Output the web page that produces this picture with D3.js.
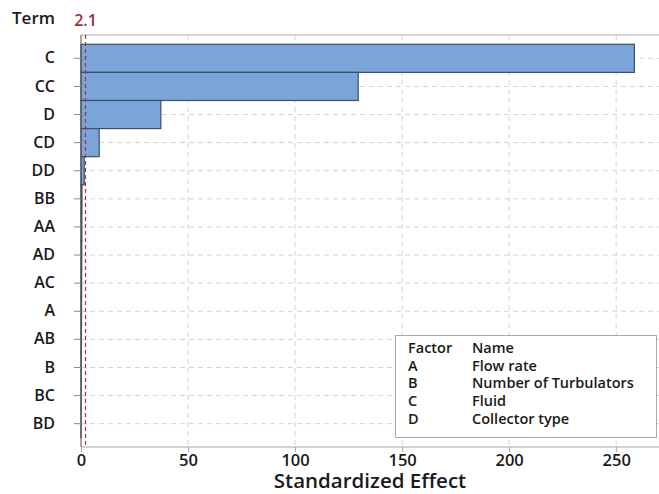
<!DOCTYPE html>
<html>
<head>
<meta charset="utf-8">
<script src="https://cdn.jsdelivr.net/npm/d3@7"></script>
<style>
  body { margin: 0; background: #fff; }
  svg text { font-family: "Open Sans", "Noto Sans", sans-serif; fill: #1a1a1a; }
</style>
</head>
<body>
<svg id="chart" width="659" height="494"></svg>
<script>
// Pareto chart of standardized effects
const terms = ["C", "CC", "D", "CD", "DD", "BB", "AA", "AD", "AC", "A", "AB", "B", "BC", "BD"];
const effects = [258.5, 129.5, 37.3, 8.5, 1.5, 0.45, 0.4, 0.35, 0.3, 0.25, 0.2, 0.15, 0.1, 0.05];
const xTicks = [0, 50, 100, 150, 200, 250];
const refValue = 2.1;
const factorCodes = ["A", "B", "C", "D"];
const factorNames = ["Flow rate", "Number of Turbulators", "Fluid", "Collector type"];

const svg = d3.select("#chart");
const plotLeft = 81, plotRight = 659, plotTop = 35, plotBottom = 447;

const x = d3.scaleLinear().domain([0, 270]).range([plotLeft, plotRight]);
const y = d3.scaleBand().domain(terms).range([plotTop, plotBottom]).paddingInner(0).paddingOuter(0.33);

// frame top line
svg.append("line").attr("x1", plotLeft).attr("x2", plotRight).attr("y1", plotTop).attr("y2", plotTop)
  .attr("stroke", "#c8c8c8").attr("stroke-width", 1.5);

// gridlines
svg.append("g").selectAll("line").data(xTicks.slice(1)).join("line")
  .attr("x1", d => x(d)).attr("x2", d => x(d)).attr("y1", plotTop).attr("y2", plotBottom)
  .attr("stroke", "#d4d4d4").attr("stroke-dasharray", "5,4");
svg.append("g").selectAll("line").data(terms).join("line")
  .attr("x1", plotLeft).attr("x2", plotRight)
  .attr("y1", d => y(d) + y.bandwidth() / 2).attr("y2", d => y(d) + y.bandwidth() / 2)
  .attr("stroke", "#d4d4d4").attr("stroke-dasharray", "5,4");

// legend box
const lg = svg.append("g");
const lgFont = 14.5;
lg.append("rect").attr("x", 395.5).attr("y", 335.5).attr("width", 261).attr("height", 102)
  .attr("fill", "#fff").attr("stroke", "#a8a8a8").attr("stroke-width", 1);
lg.append("text").attr("x", 408).attr("y", 353).text("Factor")
  .attr("font-size", lgFont).attr("font-weight", 600);
lg.append("text").attr("x", 472).attr("y", 353).text("Name")
  .attr("font-size", lgFont).attr("font-weight", 600);
factorCodes.forEach((c, i) => {
  lg.append("text").attr("x", 408).attr("y", 370.5 + i * 17.7).text(c)
    .attr("font-size", lgFont).attr("font-weight", 600);
  lg.append("text").attr("x", 472).attr("y", 370.5 + i * 17.7).text(factorNames[i])
    .attr("font-size", lgFont).attr("font-weight", 600);
});

// bars
svg.append("g").selectAll("rect").data(terms).join("rect")
  .attr("x", x(0))
  .attr("y", d => y(d))
  .attr("width", (d, i) => Math.max(0, x(effects[i]) - x(0)))
  .attr("height", y.bandwidth())
  .attr("fill", "#7aa5d8")
  .attr("stroke", "#3e4f66")
  .attr("stroke-width", 1.2);

// reference line
svg.append("line").attr("x1", x(refValue)).attr("x2", x(refValue))
  .attr("y1", plotTop).attr("y2", plotBottom)
  .attr("stroke", "#b03040").attr("stroke-width", 1.2).attr("stroke-dasharray", "4,3");
svg.append("text").attr("x", x(refValue)).attr("y", 26).text(refValue)
  .attr("text-anchor", "middle").attr("font-size", 16).attr("font-weight", 600)
  .style("fill", "#973040");

// axes
const xAxis = d3.axisBottom(x).tickValues(xTicks).tickSize(5).tickPadding(2);
const gx = svg.append("g").attr("transform", `translate(0,${plotBottom})`).call(xAxis);
gx.select(".domain").attr("stroke", "#a8a8a8").attr("d", `M${plotLeft},0H${plotRight}`);
gx.selectAll(".tick line").attr("stroke", "#a8a8a8");
gx.selectAll(".tick text").attr("font-size", 16.5).attr("font-weight", 600)
  .attr("font-family", "'Open Sans', sans-serif").style("fill", "#1a1a1a");

const yAxis = d3.axisLeft(y).tickSize(7).tickPadding(19);
const gy = svg.append("g").attr("transform", `translate(${plotLeft},0)`).call(yAxis);
gy.select(".domain").attr("stroke", "#555").attr("d", `M0,${plotTop}V${plotBottom}`);
gy.selectAll(".tick line").attr("stroke", "#888");
gy.selectAll(".tick text").attr("font-size", 16).attr("font-weight", 600)
  .attr("font-family", "'Open Sans', sans-serif").style("fill", "#1a1a1a");

// titles
svg.append("text").attr("x", 12).attr("y", 24).text("Term")
  .attr("font-size", 17).attr("font-weight", 600);
svg.append("text").attr("x", 370).attr("y", 488).text("Standardized Effect")
  .attr("text-anchor", "middle").attr("font-size", 20.5).attr("font-weight", 600);
</script>
</body>
</html>
